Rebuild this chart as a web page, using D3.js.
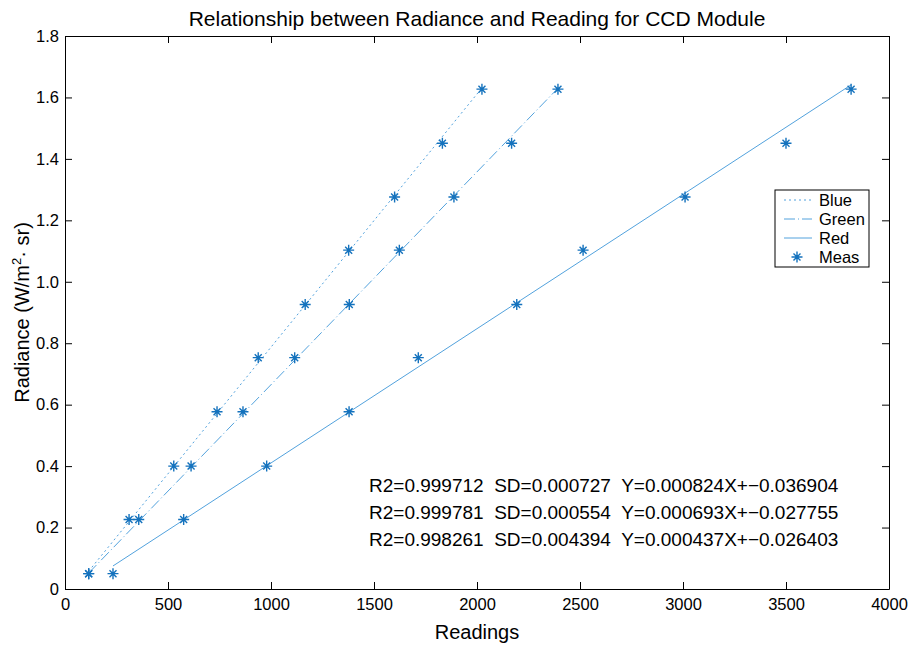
<html>
<head>
    <script src="https://cdn.jsdelivr.net/npm/d3@7"></script>
    <style>
        body { margin: 0; background: #fff; }
        text { font-family: "Liberation Sans", Arial, sans-serif; }
    </style>
</head>
<body>
<script>
var width = 910;
var height = 645;
var margin = {left: 65, right: 21, top: 36, bottom: 56};

// radiance levels (y) shared by all three channels
var radiance = [0.050, 0.226, 0.400, 0.577, 0.753, 0.926, 1.103, 1.276, 1.451, 1.627];

// readings (x) for each channel
var blueReadings  = [115, 311, 528, 738, 938, 1166, 1377, 1600, 1832, 2024];
var greenReadings = [115, 358, 612, 864, 1115, 1380, 1623, 1888, 2168, 2393];
var redReadings   = [233, 576, 979, 1379, 1715, 2193, 2515, 3010, 3500, 3816];

// fitted line end points [x, y]
var blueFit  = [[115, 0.058], [2024, 1.631]];
var greenFit = [[115, 0.052], [2393, 1.630]];
var redFit   = [[233, 0.075], [3816, 1.641]];

var seriesNames = ["Blue", "Green", "Red", "Meas"];
var fitTexts = [
    "R2=0.999712  SD=0.000727  Y=0.000824X+\u22120.036904",
    "R2=0.999781  SD=0.000554  Y=0.000693X+\u22120.027755",
    "R2=0.998261  SD=0.004394  Y=0.000437X+\u22120.026403"
];
var xTicks = [0, 500, 1000, 1500, 2000, 2500, 3000, 3500, 4000];
var yTicks = [0, 0.2, 0.4, 0.6, 0.8, 1.0, 1.2, 1.4, 1.6, 1.8];

var lineColor = "#52a2dd";
var markColor = "#1472bd";

const svg = d3.select("body").append("svg")
    .attr("width", width)
    .attr("height", height);

var x = d3.scaleLinear([0, 4000], [margin.left, width - margin.right]);
var y = d3.scaleLinear([0, 1.8], [height - margin.bottom, margin.top]);

// axes box with inward ticks on all four sides
var tick = 7;
svg.append("g")
    .attr("transform", `translate(0, ${y(0)})`)
    .call(d3.axisBottom(x).tickValues(xTicks).tickSize(-tick).tickSizeOuter(0).tickPadding(9)
        .tickFormat(d3.format("d")));
svg.append("g")
    .attr("transform", `translate(0, ${y(1.8)})`)
    .call(d3.axisTop(x).tickValues(xTicks).tickSize(-tick).tickSizeOuter(0).tickFormat(""));
svg.append("g")
    .attr("transform", `translate(${x(0)}, 0)`)
    .call(d3.axisLeft(y).tickValues(yTicks).tickSize(-tick).tickSizeOuter(0).tickPadding(6)
        .tickFormat(d => d === 0 ? "0" : d3.format(".1f")(d)));
svg.append("g")
    .attr("transform", `translate(${x(4000)}, 0)`)
    .call(d3.axisRight(y).tickValues(yTicks).tickSize(-tick).tickSizeOuter(0).tickFormat(""));

svg.selectAll(".tick text")
    .style("font-size", "16.5px")
    .attr("fill", "#000");
svg.selectAll(".domain").attr("stroke", "#000");
svg.selectAll(".tick line").attr("stroke", "#000");

// fitted lines
var line = d3.line().x(d => x(d[0])).y(d => y(d[1]));
var fits = [
    {pts: blueFit, dash: "2,3"},
    {pts: greenFit, dash: "11,3,1,3"},
    {pts: redFit, dash: null}
];
svg.append("g").selectAll("path")
    .data(fits)
    .join("path")
        .attr("d", d => line(d.pts))
        .attr("fill", "none")
        .attr("stroke", lineColor)
        .attr("stroke-width", 1)
        .attr("stroke-dasharray", d => d.dash);

// measured points drawn as asterisks
var meas = [];
[blueReadings, greenReadings, redReadings].forEach(arr => {
    arr.forEach((v, i) => meas.push([v, radiance[i]]));
});
var star = "M-5.5,0H5.5M0,-5.5V5.5M-3.5,-3.5L3.5,3.5M-3.5,3.5L3.5,-3.5";
svg.append("g").selectAll("path")
    .data(meas)
    .join("path")
        .attr("transform", d => `translate(${x(d[0])}, ${y(d[1])})`)
        .attr("d", star)
        .attr("stroke", markColor)
        .attr("stroke-width", 1.4)
        .attr("fill", "none");

// fit annotations
svg.append("g").selectAll("text")
    .data(fitTexts)
    .join("text")
        .attr("x", 369)
        .attr("y", (d, i) => 492 + i * 27)
        .style("font-size", "19px")
        .style("white-space", "pre")
        .text(d => d);

// legend
var lg = svg.append("g").attr("transform", "translate(775, 190)");
lg.append("rect")
    .attr("width", 94).attr("height", 77)
    .attr("fill", "#fff").attr("stroke", "#000");
seriesNames.forEach((name, i) => {
    var cy = 10 + i * 19;
    if (i < 3) {
        lg.append("line")
            .attr("x1", 9).attr("x2", 37).attr("y1", cy).attr("y2", cy)
            .attr("stroke", lineColor)
            .attr("stroke-dasharray", fits[i].dash);
    } else {
        lg.append("path")
            .attr("transform", `translate(22, ${cy})`)
            .attr("d", star)
            .attr("stroke", markColor)
            .attr("stroke-width", 1.4);
    }
    lg.append("text")
        .attr("x", 44).attr("y", cy + 6)
        .style("font-size", "16.5px")
        .text(name);
});

// title and axis labels
svg.append("text")
    .attr("x", (x(0) + x(4000)) / 2).attr("y", 26)
    .attr("text-anchor", "middle")
    .style("font-size", "21px")
    .text("Relationship between Radiance and Reading for CCD Module");

svg.append("text")
    .attr("x", (x(0) + x(4000)) / 2).attr("y", 639)
    .attr("text-anchor", "middle")
    .style("font-size", "20px")
    .text("Readings");

var yl = svg.append("text")
    .attr("transform", `translate(29, ${(y(0) + y(1.8)) / 2}) rotate(-90)`)
    .attr("text-anchor", "middle")
    .style("font-size", "20px");
yl.append("tspan").text("Radiance (W/m");
yl.append("tspan").attr("dy", -8).style("font-size", "13px").text("2");
yl.append("tspan").attr("dy", 8).text("\u00b7 sr)");
</script>
</body>
</html>
